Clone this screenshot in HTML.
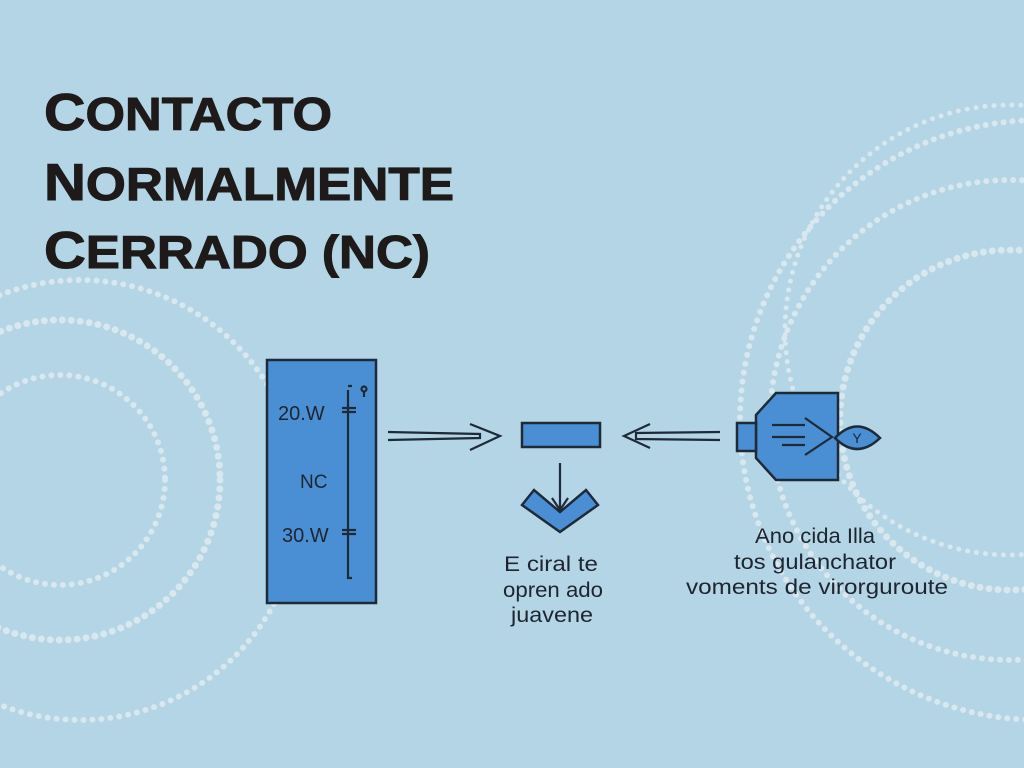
<!DOCTYPE html>
<html><head><meta charset="utf-8"><style>
html,body{margin:0;padding:0;background:#b4d5e6;}
svg{display:block}
</style></head><body>
<svg width="1024" height="768" viewBox="0 0 1024 768" xmlns="http://www.w3.org/2000/svg">
<rect width="1024" height="768" fill="#b4d5e6"/>
<g fill="none" stroke="#e6eef2" stroke-linecap="round" stroke-dasharray="0 9" opacity="0.75">
<circle cx="60" cy="480" r="105" stroke-width="6"/>
<circle cx="60" cy="480" r="160" stroke-width="7"/>
<circle cx="80" cy="500" r="220" stroke-width="6"/>
<circle cx="1010" cy="420" r="170" stroke-width="7"/>
<circle cx="1010" cy="420" r="240" stroke-width="6"/>
<circle cx="1040" cy="420" r="300" stroke-width="6"/>
<circle cx="1010" cy="330" r="225" stroke-width="5"/>
</g>
<g font-family="Liberation Sans, sans-serif" font-weight="bold" fill="#1f1a1a" stroke="#1f1a1a" stroke-width="1">
<text x="44" y="130" font-size="46" textLength="288" lengthAdjust="spacingAndGlyphs"><tspan font-size="52">C</tspan>ONTACTO</text>
<text x="44" y="200" font-size="46" textLength="410" lengthAdjust="spacingAndGlyphs"><tspan font-size="52">N</tspan>ORMALMENTE</text>
<text x="44" y="268" font-size="46" textLength="386" lengthAdjust="spacingAndGlyphs"><tspan font-size="52">C</tspan>ERRADO (NC)</text>
</g>
<g stroke="#1e2a38" stroke-width="2.5" fill="#4a8fd4">
<rect x="267" y="360" width="109" height="243"/>
<rect x="522" y="423" width="78" height="24"/>
<polygon points="522,505 534,490 560,512 586,490 598,505 560,532"/>
<polygon points="776,393 838,393 838,480 776,480 756,458 756,415"/>
<rect x="737" y="423" width="19" height="28"/>
<path d="M835,438 Q857,415 880,438 Q857,460 835,438 Z"/>
</g>
<g stroke="#1e2a38" stroke-width="2.2" fill="none">
<path d="M348,390 L348,578 L352,578 M348,386 L352,386"/>
<circle cx="364" cy="389" r="2.5"/>
<path d="M364,392 L364,397"/>
<path d="M342,408 L356,408 M342,412 L356,412"/>
<path d="M342,530 L356,530 M342,534 L356,534"/>
<path d="M388,432 L480,434 L480,438 L388,440"/>
<path d="M470,424 L500,436 L470,450"/>
<path d="M720,432 L636,433 L636,439 L720,440"/>
<path d="M650,424 L624,436 L650,448"/>
<path d="M560,463 L560,508 M552,498 L560,510 L568,498"/>
<path d="M772,425 L805,425 M772,437 L805,437 M782,445 L805,445"/>
<path d="M805,418 L832,437 L805,455"/>
</g>
<g font-family="Liberation Sans, sans-serif" fill="#1e2530">
<text x="278" y="420" font-size="20">20.W</text>
<text x="300" y="488" font-size="19">NC</text>
<text x="282" y="542" font-size="20">30.W</text>
<text x="857" y="443" font-size="14" text-anchor="middle">Y</text>
<g font-size="21" text-anchor="middle">
<text x="551" y="571" textLength="94" lengthAdjust="spacingAndGlyphs">E ciral te</text>
<text x="553" y="597" textLength="100" lengthAdjust="spacingAndGlyphs">opren ado</text>
<text x="552" y="622" textLength="82" lengthAdjust="spacingAndGlyphs">juavene</text>
<text x="815" y="543" textLength="120" lengthAdjust="spacingAndGlyphs">Ano cida Illa</text>
<text x="815" y="569" textLength="162" lengthAdjust="spacingAndGlyphs">tos gulanchator</text>
<text x="817" y="594" textLength="262" lengthAdjust="spacingAndGlyphs">voments de virorguroute</text>
</g>
</g>
</svg>
</body></html>
